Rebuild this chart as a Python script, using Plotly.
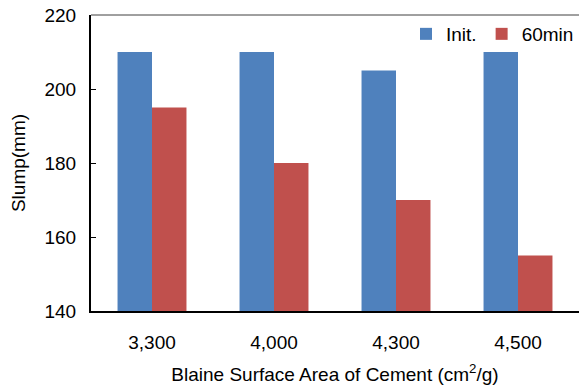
import plotly.graph_objects as go

categories = ["3,300", "4,000", "4,300", "4,500"]
init_values = [210, 210, 205, 210]
min60_values = [195, 180, 170, 155]
series_names = ["Init.", "60min"]
y_ticks = [140, 160, 180, 200, 220]

FONT = "Liberation Sans, Arial, sans-serif"
FS = 19

fig = go.Figure()
fig.add_trace(go.Bar(x=categories, y=init_values, name=series_names[0],
                     marker=dict(color="#4F81BD", line=dict(width=0))))
fig.add_trace(go.Bar(x=categories, y=min60_values, name=series_names[1],
                     marker=dict(color="#C0504D", line=dict(width=0))))

fig.update_layout(
    width=579, height=390,
    margin=dict(l=91, r=0, t=15, b=79),
    paper_bgcolor="white", plot_bgcolor="white",
    font=dict(family=FONT, size=FS, color="black"),
    barmode="group", bargap=0.435, bargroupgap=0,
    showlegend=True,
    legend=dict(orientation="h", x=1.0, xanchor="right", y=1.0, yanchor="top",
                font=dict(size=FS), bgcolor="rgba(0,0,0,0)",
                itemwidth=30, tracegroupgap=0),
    xaxis=dict(showline=True, linecolor="black", linewidth=2, ticks="",
               showgrid=False, ticklabelstandoff=13,
               title=dict(text="Blaine Surface Area of Cement (cm<sup>2</sup>/g)",
                          font=dict(size=FS), standoff=16)),
    yaxis=dict(range=[140, 220], tickvals=y_ticks, showline=True, linecolor="black",
               linewidth=2, ticks="inside", ticklen=5, tickcolor="black", tickwidth=1,
               showgrid=False, zeroline=False, ticklabelstandoff=9,
               title=dict(text="Slump(mm)", font=dict(size=FS), standoff=14)),
    shapes=[dict(type="line", xref="paper", yref="paper", x0=0, x1=1, y0=1, y1=1,
                 line=dict(color="#404040", width=1))],
)

fig.write_html("out.html")
